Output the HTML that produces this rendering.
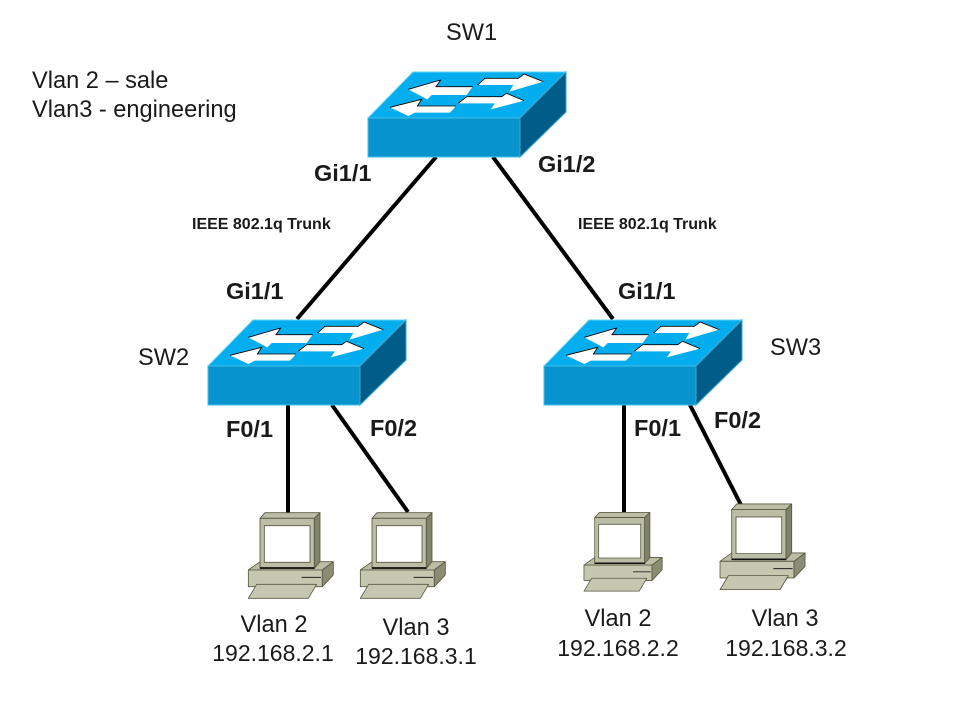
<!DOCTYPE html>
<html>
<head>
<meta charset="utf-8">
<style>
html,body{margin:0;padding:0;background:#fff;width:960px;height:720px;overflow:hidden}
svg{display:block}
text{font-family:"Liberation Sans",Arial,sans-serif;fill:#1a1a1a}
.b{font-weight:bold;font-size:23.5px}
.n{font-size:23.6px}
.i{font-size:23px}
.t{font-weight:bold;font-size:16px}
</style>
</head>
<body>
<svg width="960" height="720" viewBox="0 0 960 720" xmlns="http://www.w3.org/2000/svg">
<defs>
<g id="sw">
  <polygon points="0,46 45,0 198,0 152,46" fill="#04aeee" stroke="#5fd0f5" stroke-width="1"/>
  <rect x="0" y="46" width="152" height="39" fill="#0793ce" stroke="#45bfec" stroke-width="1"/>
  <polygon points="152,46 198,0 198,40 152,85" fill="#005d8a" stroke="#3fa6cf" stroke-width="1"/>
  <g transform="translate(-18,-12) scale(.33333)">
    <polygon points="175,88 272,60 258,80 368,80 350,105 245,105 232,118" fill="#fff"/>
    <polyline points="175,88 272,60 258,80 368,80" fill="none" stroke="#000" stroke-width="2.5"/>
    <polygon points="580,65 522,42 505,55 405,55 383,75 490,75 478,95" fill="#fff"/>
    <polyline points="383,75 405,55 505,55 522,42 580,65" fill="none" stroke="#000" stroke-width="2.5"/>
    <polygon points="522,122 470,100 455,110 350,110 325,130 435,130 422,148" fill="#fff"/>
    <polyline points="325,130 350,110 455,110 470,100 522,122" fill="none" stroke="#000" stroke-width="2.5"/>
    <polygon points="120,142 215,118 202,138 318,138 300,158 195,158 175,168" fill="#fff"/>
    <polyline points="120,142 215,118 202,138 318,138" fill="none" stroke="#000" stroke-width="2.5"/>
  </g>
</g>
<g id="pc">
  <g transform="scale(.33333)" stroke="#55583f" stroke-width="2.5" stroke-linejoin="round">
    <polygon points="40,210 75,185 295,185 262,210" fill="#bcbda5"/>
    <rect x="40" y="210" width="222" height="50" fill="#c6c7b0"/>
    <polygon points="262,210 295,185 295,225 262,260" fill="#8a8c74"/>
    <polygon points="40,295 65,253 245,253 220,295" fill="#c6c7b0"/>
    <line x1="200" y1="232" x2="258" y2="232" stroke="#222" stroke-width="3"/>
    <polygon points="75,55 90,38 255,38 238,55" fill="#bcbda5"/>
    <rect x="75" y="55" width="163" height="150" fill="#bcbda5"/>
    <polygon points="238,55 255,38 255,185 238,205" fill="#7f816a"/>
    <rect x="88" y="77" width="137" height="110" fill="#fff" stroke="#55583f"/>
    <line x1="75" y1="204" x2="238" y2="204" stroke="#111" stroke-width="5"/>
  </g>
</g>
</defs>

<g stroke="#000" stroke-width="4" fill="none">
  <line x1="436" y1="157" x2="297" y2="319"/>
  <line x1="493" y1="157" x2="613" y2="319"/>
  <line x1="288" y1="405" x2="288" y2="513"/>
  <line x1="332" y1="405" x2="408" y2="512"/>
  <line x1="624" y1="405" x2="624" y2="513"/>
  <line x1="690" y1="405" x2="741" y2="505"/>
</g>

<use href="#sw" x="368" y="72"/>
<use href="#sw" x="208" y="320"/>
<use href="#sw" x="544" y="320"/>

<use href="#pc" x="235" y="500"/>
<use href="#pc" x="347" y="500"/>
<g transform="translate(571.7,500.7) scale(.92)"><use href="#pc"/></g>
<use href="#pc" x="706.7" y="491.3"/>

<text class="n" x="446" y="40">SW1</text>
<text class="n" x="32" y="88">Vlan 2 – sale</text>
<text class="n" x="32" y="117">Vlan3 - engineering</text>
<text class="b" x="314" y="181">Gi1/1</text>
<text class="b" x="538" y="172">Gi1/2</text>
<text class="t" x="192" y="229">IEEE 802.1q Trunk</text>
<text class="t" x="578" y="229">IEEE 802.1q Trunk</text>
<text class="b" x="226" y="299">Gi1/1</text>
<text class="b" x="618" y="299">Gi1/1</text>
<text class="n" x="138" y="365">SW2</text>
<text class="n" x="770" y="355">SW3</text>
<text class="b" x="226" y="437">F0/1</text>
<text class="b" x="370" y="436">F0/2</text>
<text class="b" x="634" y="436">F0/1</text>
<text class="b" x="714" y="428">F0/2</text>
<g text-anchor="middle">
<text class="n" x="274" y="632">Vlan 2</text>
<text class="i" x="273" y="661">192.168.2.1</text>
<text class="n" x="416" y="635">Vlan 3</text>
<text class="i" x="416" y="664">192.168.3.1</text>
<text class="n" x="618" y="626">Vlan 2</text>
<text class="i" x="618" y="656">192.168.2.2</text>
<text class="n" x="785" y="626">Vlan 3</text>
<text class="i" x="786" y="656">192.168.3.2</text>
</g>
</svg>
</body>
</html>
